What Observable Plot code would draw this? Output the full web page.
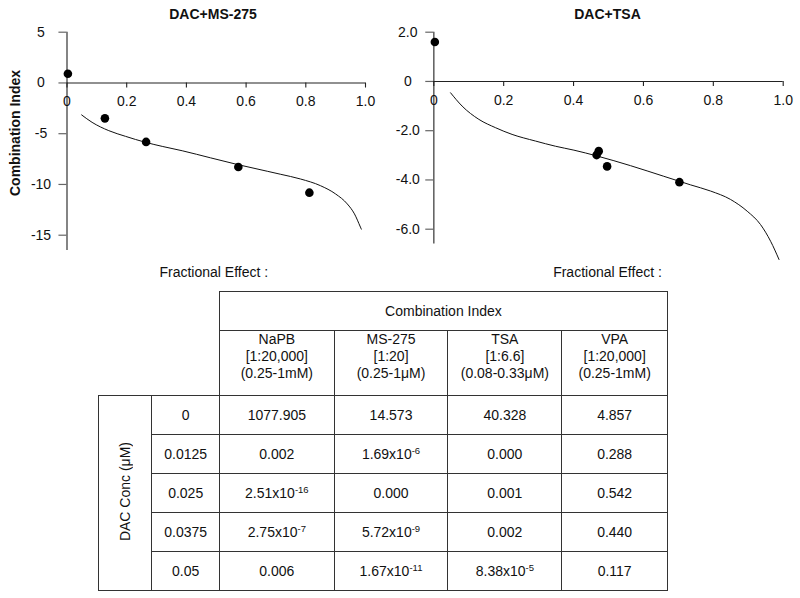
<!DOCTYPE html>
<html>
<head>
<meta charset="utf-8">
<script src="https://cdn.jsdelivr.net/npm/d3@7"></script>
<script src="https://cdn.jsdelivr.net/npm/@observablehq/plot@0.6"></script>
<style>
  html, body { margin: 0; padding: 0; background: #fff; }
  #root { position: relative; width: 800px; height: 598px; overflow: hidden; font-family: "Liberation Sans", Arial, Helvetica, sans-serif; color: #111; }
  .abs { position: absolute; white-space: nowrap; }
  .title { font-weight: bold; font-size: 14px; transform: translate(-50%, -50%); }
  .xlab { font-size: 14px; transform: translate(-50%, -50%); }
  .ylab { font-weight: bold; font-size: 14px; transform: translate(-50%, -50%) rotate(-90deg); }
  table { position: absolute; left: 98px; top: 291px; border-collapse: collapse; table-layout: fixed; font-size: 14px; }
  td { border: 1px solid #333; text-align: center; vertical-align: middle; padding: 0; line-height: 17px; }
  td.empty { border: none; }
  td.hdr { padding-bottom: 13px; }
  td.vert { position: relative; }
  td.vert span { writing-mode: vertical-rl; transform: rotate(180deg); display: inline-block; }
  sup { font-size: 9.5px; vertical-align: 5px; line-height: 0; }
</style>
</head>
<body>
<div id="root"></div>
<script>
// ---------- Data ----------
const xTicks = [0, 0.2, 0.4, 0.6, 0.8, 1.0];
const xTickLabels = ["0", "0.2", "0.4", "0.6", "0.8", "1.0"];

// DAC+MS-275
const msTicks = [5, 0, -5, -10, -15];
const msTickLabels = ["5", "0", "-5", "-10", "-15"];
const msPointFa = [0.003, 0.127, 0.265, 0.574, 0.812];
const msPointCI = [0.9, -3.49, -5.81, -8.28, -10.81];
const msCurveFa = [0.049, 0.084, 0.140, 0.196, 0.263, 0.319, 0.386, 0.481, 0.573, 0.671, 0.716, 0.782, 0.849, 0.900, 0.939, 0.963, 0.983, 0.986];
const msCurveCI = [-3.15, -3.88, -4.70, -5.26, -5.85, -6.25, -6.68, -7.38, -8.05, -8.70, -9.00, -9.46, -10.12, -10.94, -11.92, -12.90, -14.20, -14.40];

// DAC+TSA
const tsaTicks = [2, 0, -2, -4, -6];
const tsaTickLabels = ["2.0", "0", "-2.0", "-4.0", "-6.0"];
const tsaPointFa = [0.003, 0.472, 0.466, 0.496, 0.703];
const tsaPointCI = [1.6, -2.83, -2.99, -3.45, -4.09];
const tsaCurveFa = [0.048, 0.081, 0.129, 0.177, 0.224, 0.291, 0.348, 0.401, 0.468, 0.563, 0.658, 0.735, 0.792, 0.849, 0.897, 0.935, 0.964, 0.988];
const tsaCurveCI = [-0.46, -1.00, -1.54, -1.88, -2.15, -2.42, -2.63, -2.79, -3.03, -3.42, -3.85, -4.20, -4.45, -4.79, -5.27, -5.81, -6.49, -7.23];

// Table
const dacConc = ["0", "0.0125", "0.025", "0.0375", "0.05"];
const drugs = ["NaPB", "MS-275", "TSA", "VPA"];
const ratios = ["[1:20,000]", "[1:20]", "[1:6.6]", "[1:20,000]"];
const ranges = ["(0.25-1mM)", "(0.25-1μM)", "(0.08-0.33μM)", "(0.25-1mM)"];
const ciNaPB = ["1077.905", "0.002", "2.51x10^-16", "2.75x10^-7", "0.006"];
const ciMS275 = ["14.573", "1.69x10^-6", "0.000", "5.72x10^-9", "1.67x10^-11"];
const ciTSA = ["40.328", "0.000", "0.001", "0.002", "8.38x10^-5"];
const ciVPA = ["4.857", "0.288", "0.542", "0.440", "0.117"];

// ---------- Build ----------
const root = document.getElementById("root");
const FONT = '"Liberation Sans", Arial, Helvetica, sans-serif';

function panel({left, xRange, yDomain, yRange, yBottom, ticks, tickLabels, pFa, pCI, cFa, cCI, xTickLen, yTickLen}) {
  const pts = pFa.map((x, i) => ({x, y: pCI[i]}));
  const crv = cFa.map((x, i) => ({x, y: cCI[i]}));
  const svg = Plot.plot({
    width: 400, height: 280, margin: 0,
    x: {domain: [0, 1], range: xRange, axis: null},
    y: {domain: yDomain, range: yRange, axis: null},
    style: {fontFamily: FONT, fontSize: "14px", color: "#111", background: "transparent", overflow: "visible"},
    marks: [
      Plot.ruleX([0], {y1: yDomain[0], y2: yBottom, stroke: "#666", strokeWidth: 1.6}),
      Plot.ruleY(ticks, {x1: 0, x2: -yTickLen, y: d => d, stroke: "#666", strokeWidth: 1.2}),
      Plot.ruleY([0], {x1: 0, x2: 1, stroke: "#222", strokeWidth: 1.1}),
      Plot.ruleX(xTicks, {x: d => d, y1: 0, y2: -xTickLen, stroke: "#222", strokeWidth: 1.1}),
      Plot.text(ticks, {x: 0, y: d => d, text: (d, i) => tickLabels[i], dx: -26, textAnchor: "middle", lineAnchor: "middle", fill: "#111"}),
      Plot.text(xTicks, {x: d => d, y: 0, text: (d, i) => xTickLabels[i], dy: 19, textAnchor: "middle", lineAnchor: "middle", fill: "#111"}),
      Plot.line(crv, {x: "x", y: "y", stroke: "#111", strokeWidth: 1, curve: "monotone-x"}),
      Plot.dot(pts, {x: "x", y: "y", r: 4.3, fill: "#000", stroke: "none"})
    ]
  });
  svg.style.position = "absolute";
  svg.style.left = left + "px";
  svg.style.top = "0px";
  root.appendChild(svg);
}

panel({left: 0, xRange: [66.5, 365], yDomain: [5, -15], yRange: [31.7, 234.7], yBottom: -16.5,
  ticks: msTicks, tickLabels: msTickLabels, pFa: msPointFa, pCI: msPointCI, cFa: msCurveFa, cCI: msCurveCI,
  xTickLen: 0.5, yTickLen: 0.027});
panel({left: 400, xRange: [33.3, 382.7], yDomain: [2, -6], yRange: [31.7, 228.7], yBottom: -6.6,
  ticks: tsaTicks, tickLabels: tsaTickLabels, pFa: tsaPointFa, pCI: tsaPointCI, cFa: tsaCurveFa, cCI: tsaCurveCI,
  xTickLen: 0.2, yTickLen: 0.023});

function addText(cls, txt, x, y) {
  const d = document.createElement("div");
  d.className = "abs " + cls;
  d.textContent = txt;
  d.style.left = x + "px";
  d.style.top = y + "px";
  root.appendChild(d);
}
addText("title", "DAC+MS-275", 213, 13.5);
addText("title", "DAC+TSA", 607.5, 13.5);
addText("ylab", "Combination Index", 15, 132.5);
addText("xlab", "Fractional Effect :", 213.8, 272);
addText("xlab", "Fractional Effect :", 607.5, 272);

// Table
const colW = [53.4, 67.6, 114.7, 113.7, 114, 105.6];
const rowH = [39, 63.3, 39.3, 39, 38.7, 39.3, 39];
const cols = [ciNaPB, ciMS275, ciTSA, ciVPA];
function fmt(s) {
  const p = s.split("^");
  return p.length > 1 ? `${p[0]}<sup>${p[1]}</sup>` : p[0];
}
let html = "<colgroup>" + colW.map(w => `<col style="width:${w}px">`).join("") + "</colgroup>";
html += `<tr style="height:${rowH[0]}px"><td class="empty" colspan="2" rowspan="2"></td><td colspan="4">Combination Index</td></tr>`;
html += `<tr style="height:${rowH[1]}px">` + drugs.map((d, i) => `<td class="hdr">${d}<br>${ratios[i]}<br>${ranges[i]}</td>`).join("") + "</tr>";
dacConc.forEach((c, r) => {
  html += `<tr style="height:${rowH[r + 2]}px">`;
  if (r === 0) html += `<td class="vert" rowspan="${dacConc.length}"><span>DAC Conc (μM)</span></td>`;
  html += `<td>${c}</td>` + cols.map(col => `<td>${fmt(col[r])}</td>`).join("");
  html += "</tr>";
});
const table = document.createElement("table");
table.innerHTML = html;
table.style.width = colW.reduce((a, b) => a + b, 0) + "px";
root.appendChild(table);
</script>
</body>
</html>
